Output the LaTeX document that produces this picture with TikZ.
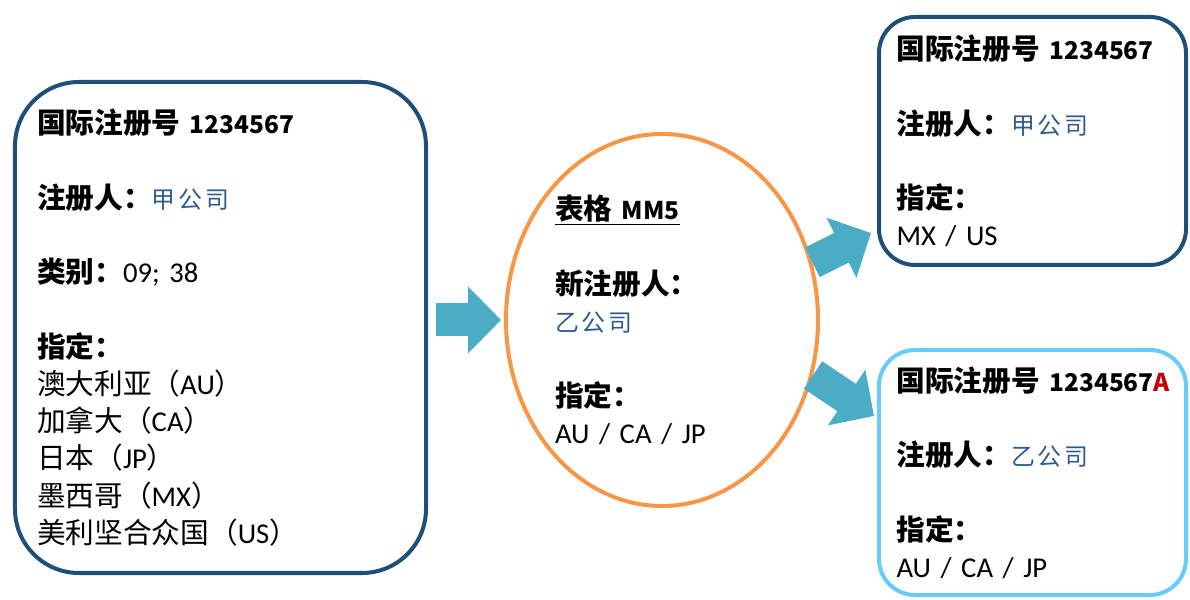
\documentclass[tikz,border=0pt]{standalone}
\usepackage{fontspec}
\setmainfont{Carlito}[WordSpace=0.85]
\newfontfamily\cjk{Noto Sans CJK SC}
\newfontfamily\cjkname[LetterSpace=12]{Noto Sans CJK SC}
\usetikzlibrary{arrows.meta,shapes.geometric,positioning}
\definecolor{regblue}{HTML}{1F4E79}
\definecolor{formorange}{HTML}{F79646}
\definecolor{arrowteal}{HTML}{4BACC6}
\definecolor{newblue}{HTML}{66CCFF}
\definecolor{nameblue}{HTML}{2E5A8E}
\definecolor{markred}{HTML}{C00000}
\newcommand\zh[1]{{\cjk #1}}
\newcommand\zhb[1]{{\cjk\bfseries #1}}
\newcommand\num[1]{{\cjk\bfseries\fontsize{17.4}{26.5}\selectfont #1}}
\newcommand\firm[1]{{\cjkname\fontsize{17}{26.5}\selectfont\color{nameblue}#1}}

\begin{document}
\begin{tikzpicture}[
  font=\fontsize{20.4}{26.5}\selectfont,
  regbox/.style={draw=regblue, line width=0.1cm, rounded corners=0.9cm,
    align=left, inner xsep=0.4cm, text width=6.8cm,
    minimum width=7.675cm},
  blockarrow/.style={draw=arrowteal, line width=0.825cm,
    -{Triangle[length=0.825cm 0, width=1.625cm 0]}}]
\useasboundingbox (0,0) rectangle (29.75,14.975);

\node[regbox, rounded corners=1.6cm, inner xsep=0.55cm, text width=9.175cm,
  minimum width=10.275cm, minimum height=12.275cm] (oldreg) at (5.5125,6.7875) {%
  \mbox{\zhb{国际注册号} \num{1234567}}\\[26.5pt]
  \zhb{注册人：}\firm{甲公司}\\[26.5pt]
  \zhb{类别：}09; 38\\[26.5pt]
  \zhb{指定：}\\
  \zh{澳大利亚（}AU\zh{）}\\
  \zh{加拿大（}CA\zh{）}\\
  \zh{日本（}JP\zh{）}\\
  \zh{墨西哥（}MX\zh{）}\\
  \zh{美利坚合众国（}US\zh{）}};

\node[ellipse, draw=formorange, line width=0.1cm, inner sep=0pt,
  align=left, text width=5.35cm, minimum width=7.8cm, minimum height=9.3cm]
  (form) at (16.55,6.975) {%
  \underline{\zhb{表格} \num{MM5}}\\[26.5pt]
  \zhb{新注册人：}\\
  \firm{乙公司}\\[26.5pt]
  \zhb{指定：}\\
  AU / CA / JP};

\node[regbox, minimum height=6.2cm] (newtop) at (25.8125,11.45) {%
  \mbox{\zhb{国际注册号} \num{1234567}}\\[26.5pt]
  \zhb{注册人：}\firm{甲公司}\\[26.5pt]
  \zhb{指定：}\\
  MX / US};

\node[regbox, draw=newblue, minimum height=6.125cm] (newbot) at (25.8125,3.1625) {%
  \mbox{\zhb{国际注册号} \num{1234567\textcolor{markred}{A}}}\\[26.5pt]
  \zhb{注册人：}\firm{乙公司}\\[26.5pt]
  \zhb{指定：}\\
  AU / CA / JP};

% arrows
\draw[blockarrow, shorten <=0.2cm, shorten >=0.075cm] (oldreg.east |- form.west) -- (form.west);
\draw[blockarrow] (form.21) -- ([shift={(-0.15,0.85)}]newtop.south west);
\draw[blockarrow] (form.-20) -- ([shift={(-0.075,-1.7)}]newbot.north west);
\end{tikzpicture}
\end{document}
